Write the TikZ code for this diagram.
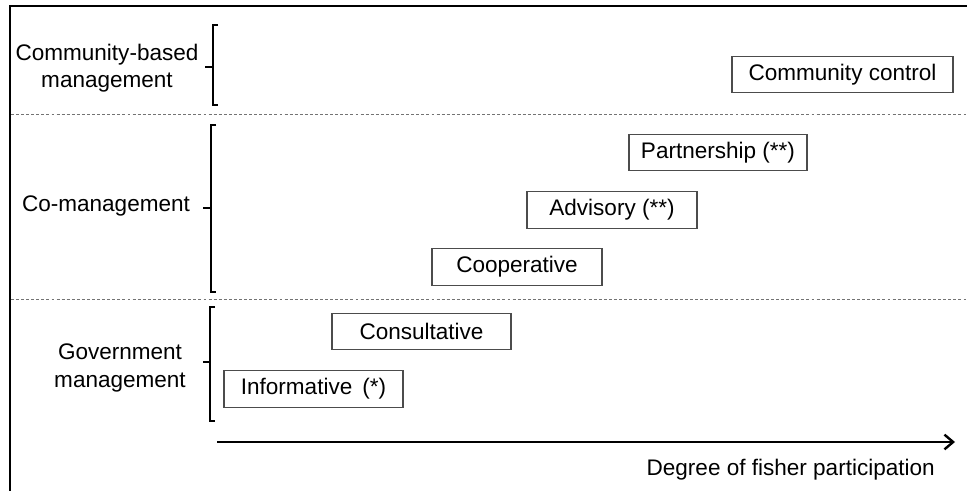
\documentclass[tikz,border=0pt]{standalone}
\usepackage{fontspec}
\setmainfont{Liberation Sans}
\usetikzlibrary{arrows.meta}
\begin{document}
\begin{tikzpicture}[x=0.75pt,y=-0.75pt,
  font=\fontsize{16.9}{20}\selectfont,
  lvlbox/.style={draw=black!70, line width=0.9pt, inner sep=0pt, minimum height=27.5pt, minimum width={#1*0.75pt}},
  grouplabel/.style={align=center, font=\fontsize{16.9}{20.5}\selectfont},
  sepline/.style={draw=black!55, line width=0.6pt, dash pattern=on 2.2pt off 1.6pt},
  bracketline/.style={line width=1.3pt, line cap=butt},
  frameline/.style={line width=2.2pt}]
\useasboundingbox (0,0) rectangle (967,491);
\fill[white] (0,0) rectangle (967,491);
% frame (left and top edges visible)
\coordinate (fTL) at (10,6);
\coordinate (fTR) at (967,6);
\coordinate (fBL) at (10,491);
\draw[frameline] (fBL) -- (fTL) -- (fTR);
% separators
\coordinate (s1a) at (11,114); \coordinate (s1b) at (967,114);
\coordinate (s2a) at (11,299); \coordinate (s2b) at (967,299);
\draw[sepline] (s1a) -- (s1b);
\draw[sepline] (s2a) -- (s2b);
% group labels
\node[grouplabel] (gcb) at (107,68) {Community-based\\management};
\node[grouplabel] (gco) at (106,206) {Co-management};
\node[grouplabel] (ggov) at (120,368) {Government\\management};
% brackets
\draw[bracketline] (218,25) -- (213,25) -- (213,105) -- (218,105);
\draw[bracketline] (213,67) -- (205,67);
\draw[bracketline] (216,125) -- (211,125) -- (211,292) -- (216,292);
\draw[bracketline] (211,208) -- (203,208);
\draw[bracketline] (215,307) -- (210,307) -- (210,421) -- (215,421);
\draw[bracketline] (210,362) -- (203,362);
% level boxes
\node[lvlbox=179] (inf) at (313.5,389) {Informative \,(*)};
\node[lvlbox=179] (con) at (421.5,331.5) {Consultative};
\node[lvlbox=170] (coo) at (517,267) {Cooperative};
\node[lvlbox=170] (adv) at (612,210) {Advisory (**)};
\node[lvlbox=178] (par) at (718,152.5) {Partnership (**)};
\node[lvlbox=221] (cc) at (842.5,74.5) {Community control};
% axis arrow
\coordinate (ax0) at (217,442);
\coordinate (ax1) at (955,442);
\draw[line width=2.2pt, -{Straight Barb[length=6.5pt,width=11pt,line width=1.8pt]}] (ax0) -- (ax1);
\node[anchor=base east, inner sep=0pt] (axl) at (935,475) {Degree of fisher participation};
\end{tikzpicture}
\end{document}
